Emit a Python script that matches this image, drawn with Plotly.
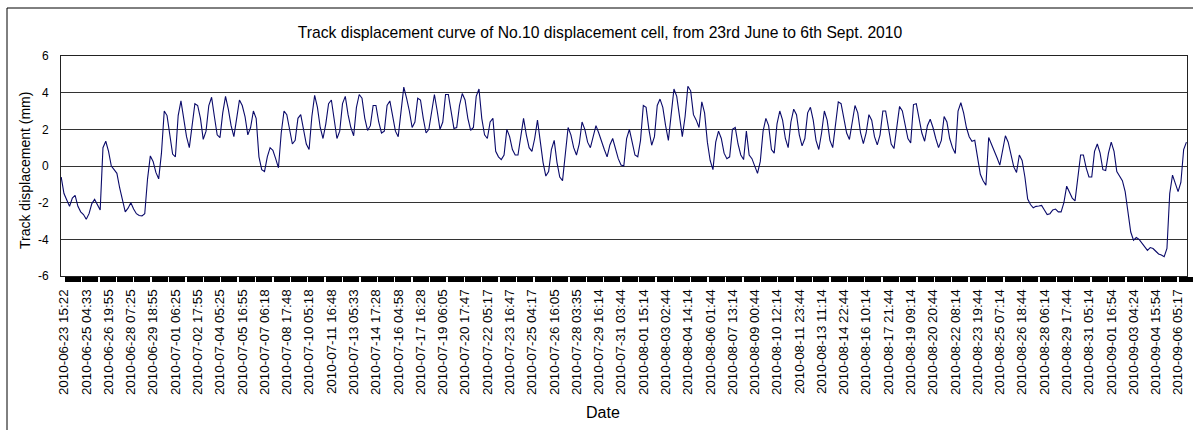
import plotly.graph_objects as go

# Track displacement (mm), equally spaced samples
displacement = [
    -0.6, -1.5, -1.85, -2.2, -1.75, -1.6, -2.2, -2.5, -2.65, -2.9,
    -2.6, -2.05, -1.82, -2.1, -2.4, 1.0, 1.35, 0.8, 0.0, -0.2,
    -0.4, -1.2, -1.95, -2.5, -2.3, -2.0, -2.35, -2.6, -2.7, -2.72,
    -2.6, -0.7, 0.55, 0.25, -0.35, -0.7, 0.7, 3.0, 2.75, 1.8,
    0.65, 0.5, 2.75, 3.55, 2.6, 1.6, 1.0, 2.2, 3.4, 3.3,
    2.6, 1.45, 1.9, 3.3, 3.75, 2.7, 1.7, 1.55, 2.9, 3.8,
    3.1, 2.2, 1.6, 2.6, 3.6, 3.3, 2.7, 1.7, 2.1, 3.0,
    2.6, 0.5, -0.2, -0.3, 0.5, 1.0, 0.85, 0.4, -0.1, 1.8,
    3.0, 2.8, 1.9, 1.2, 1.4, 2.6, 2.8, 1.9, 1.2, 0.9,
    2.7, 3.85, 3.2, 2.1, 1.5, 2.3, 3.4, 3.6, 2.6, 1.5,
    1.9, 3.4, 3.8, 2.8, 2.1, 1.65, 3.2, 3.9, 3.7, 2.6,
    1.94, 2.2, 3.3, 3.3, 2.4, 1.8, 1.9, 3.3, 3.55, 2.7,
    1.9, 1.6, 3.1, 4.3, 3.7, 3.0, 2.1, 2.4, 3.7, 3.6,
    2.6, 1.8, 2.0, 3.0, 3.9, 3.0, 2.0, 2.4, 3.9, 3.9,
    2.9, 2.05, 2.1, 3.3, 3.95, 3.6, 2.6, 1.95, 2.1, 3.8,
    4.2, 2.6, 1.7, 1.5, 2.4, 2.6, 0.8, 0.5, 0.35, 0.6,
    2.0, 1.6, 0.9, 0.6, 0.6, 1.6, 2.6, 1.7, 1.0, 0.8,
    1.5, 2.5, 1.2, 0.2, -0.55, -0.3, 0.9, 1.4, 0.2, -0.6,
    -0.8, 0.6, 2.1, 1.7, 1.0, 0.6, 1.2, 2.4, 2.0, 1.3,
    1.0, 1.6, 2.2, 1.8, 1.3, 0.9, 0.5, 1.15, 1.5, 1.0,
    0.4, 0.05, 0.0, 1.5, 2.0, 1.3, 0.6, 0.5, 1.4, 3.3,
    3.2, 2.0, 1.13, 1.6, 3.3, 3.65, 3.2, 2.2, 1.4, 2.8,
    4.2, 3.8, 2.6, 1.6, 2.7, 4.35, 4.1, 2.8, 2.5, 2.1,
    3.5, 2.9, 1.3, 0.3, -0.2, 1.3, 1.9, 1.5, 0.7, 0.4,
    0.5, 2.0, 2.1, 1.2, 0.6, 0.35, 1.9, 0.6, 0.4, -0.05,
    -0.4, 0.25, 1.9, 2.6, 2.2, 0.9, 0.7, 2.3, 3.0, 2.5,
    1.5, 1.0, 2.4, 3.1, 2.8, 1.7, 1.1, 1.5, 2.9, 3.2,
    2.5, 1.4, 0.9, 1.8, 3.0, 2.5, 1.4, 1.0, 2.4, 3.5,
    3.4, 2.5, 1.8, 1.45, 2.4, 3.3, 2.9, 1.8, 1.22, 1.8,
    2.8, 2.5, 1.6, 1.15, 1.7, 3.0, 3.0, 2.2, 1.2, 0.95,
    2.1, 3.25, 3.0, 2.2, 1.5, 1.25, 3.35, 3.4, 2.5, 1.8,
    1.35, 2.2, 2.55, 2.1, 1.5, 1.0, 1.4, 2.7, 2.4, 1.5,
    1.0, 0.68, 3.0, 3.45, 2.9, 2.1, 1.6, 1.35, 1.4, 0.4,
    -0.45, -0.8, -1.05, 1.55, 1.2, 0.9, 0.45, 0.05, 0.9, 1.65,
    1.3, 0.6, -0.05, -0.35, 0.6, 0.3, -0.6, -1.8, -2.1, -2.28,
    -2.2, -2.18, -2.15, -2.4, -2.65, -2.6, -2.4, -2.35, -2.5, -2.5,
    -2.0, -1.1, -1.4, -1.75, -1.9, -0.7, 0.6, 0.6, -0.1, -0.6,
    -0.6, 0.8, 1.2, 0.7, -0.2, -0.25, 0.7, 1.3, 0.8, -0.3,
    -0.55, -0.8, -1.4, -2.4, -3.6, -4.05, -3.9, -4.0, -4.2, -4.4,
    -4.6, -4.45, -4.5, -4.65, -4.8, -4.85, -4.95, -4.5, -1.5, -0.5,
    -1.0, -1.4, -0.9, 0.9, 1.3,
]

tick_labels = [
    "2010-06-23 15:22", "2010-06-25 04:33", "2010-06-26 19:55", "2010-06-28 07:25",
    "2010-06-29 18:55", "2010-07-01 06:25", "2010-07-02 17:55", "2010-07-04 05:25",
    "2010-07-05 16:55", "2010-07-07 06:18", "2010-07-08 17:48", "2010-07-10 05:18",
    "2010-07-11 16:48", "2010-07-13 05:33", "2010-07-14 17:28", "2010-07-16 04:58",
    "2010-07-17 16:28", "2010-07-19 06:05", "2010-07-20 17:47", "2010-07-22 05:17",
    "2010-07-23 16:47", "2010-07-25 04:17", "2010-07-26 16:05", "2010-07-28 03:35",
    "2010-07-29 16:14", "2010-07-31 03:44", "2010-08-01 15:14", "2010-08-03 02:44",
    "2010-08-04 14:14", "2010-08-06 01:44", "2010-08-07 13:14", "2010-08-09 00:44",
    "2010-08-10 12:14", "2010-08-11 23:44", "2010-08-13 11:14", "2010-08-14 22:44",
    "2010-08-16 10:14", "2010-08-17 21:44", "2010-08-19 09:14", "2010-08-20 20:44",
    "2010-08-22 08:14", "2010-08-23 19:44", "2010-08-25 07:14", "2010-08-26 18:44",
    "2010-08-28 06:14", "2010-08-29 17:44", "2010-08-31 05:14", "2010-09-01 16:54",
    "2010-09-03 04:24", "2010-09-04 15:54", "2010-09-06 05:17",
]

y_ticks = [-6, -4, -2, 0, 2, 4, 6]

FONT = "Liberation Sans, Arial, sans-serif"
W, H = 1193, 430
ML, MR, MT, MB = 61, 6, 56, 154
PW, PH = W - ML - MR, H - MT - MB

sample_idx = list(range(len(displacement)))
label_step = 8
tick_pos = [1 + label_step * i for i in range(len(tick_labels))]
n_gaps = 64
span = tick_pos[-1] - tick_pos[0]
gap = span / n_gaps
# black tick blocks between the small white gaps of the axis band
block_pos = [tick_pos[0] + gap * (i + 0.5) for i in range(n_gaps + 1)]
x_range = [-0.07, 404.2]
px_per_unit = PW / (x_range[1] - x_range[0])

fig = go.Figure()
fig.add_trace(go.Scatter(
    x=sample_idx, y=displacement, mode="lines",
    line=dict(color="#0a0a6a", width=1.1),
    showlegend=False, hoverinfo="y",
))


def px_x(p):
    return (p - ML) / PW


def px_y(p):
    return (H - MB - p) / PH


fig.update_layout(
    width=W, height=H,
    margin=dict(l=ML, r=MR, t=MT, b=MB),
    paper_bgcolor="white", plot_bgcolor="white",
    font=dict(family=FONT, color="#000000", size=12),
    title=dict(
        text="Track displacement curve of No.10 displacement cell, from 23rd June to 6th Sept. 2010",
        x=600 / W, xanchor="center", xref="container",
        y=1 - 33 / H, yanchor="middle", yref="container",
        font=dict(family=FONT, size=15.7, color="#000000"),
    ),
    xaxis=dict(
        range=x_range,
        tickmode="array", tickvals=tick_pos, ticktext=tick_labels,
        tickangle=-90, ticks="", ticklabelstandoff=7,
        tickfont=dict(family=FONT, size=13.4, color="#000000"),
        showgrid=False, zeroline=False,
        showline=True, linecolor="#222222", linewidth=1, mirror=True,
        minor=dict(tickmode="array", tickvals=block_pos, ticks="outside",
                   ticklen=5, tickwidth=gap * px_per_unit - 1.3,
                   tickcolor="black", showgrid=False),
    ),
    yaxis=dict(
        range=[-6, 6], tickmode="array", tickvals=y_ticks,
        ticktext=[str(v) for v in y_ticks],
        ticks="", ticklabelstandoff=9,
        tickfont=dict(family=FONT, size=12, color="#000000"),
        showgrid=True, gridcolor="#333333", gridwidth=1,
        zeroline=False,
        showline=True, linecolor="#222222", linewidth=1, mirror=True,
    ),
    annotations=[
        dict(text="Track displacement (mm)", textangle=-90,
             x=px_x(25), y=px_y(171), xref="paper", yref="paper",
             xanchor="center", yanchor="middle", showarrow=False,
             font=dict(family=FONT, size=14, color="#000000")),
        dict(text="Date", x=px_x(603), y=px_y(412), xref="paper", yref="paper",
             xanchor="center", yanchor="middle", showarrow=False,
             font=dict(family=FONT, size=16, color="#000000")),
    ],
    shapes=[
        # outer chart frame (left and top)
        dict(type="line", xref="paper", yref="paper",
             x0=px_x(7), x1=px_x(7), y0=px_y(8), y1=px_y(440),
             line=dict(color="black", width=1)),
        dict(type="line", xref="paper", yref="paper",
             x0=px_x(7), x1=px_x(1200), y0=px_y(8), y1=px_y(8),
             line=dict(color="black", width=1)),
    ],
)

fig.write_html("out.html", config={"displayModeBar": False},
               post_script="document.body.style.margin='0';")
